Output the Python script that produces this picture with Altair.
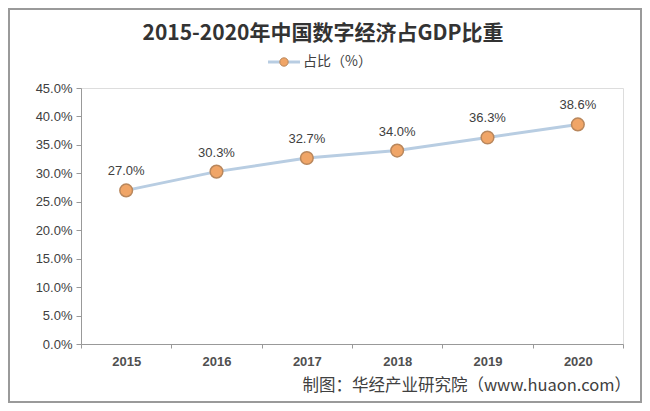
import altair as alt
import pandas as pd

years = ["2015", "2016", "2017", "2018", "2019", "2020"]
shares = [0.270, 0.303, 0.327, 0.340, 0.363, 0.386]
series_name = "占比（%）"
title_text = "2015-2020年中国数字经济占GDP比重"
footer_text = "制图：华经产业研究院（www.huaon.com）"
y_ticks = [0, 0.05, 0.10, 0.15, 0.20, 0.25, 0.30, 0.35, 0.40, 0.45]

df = pd.DataFrame({"year": years, "share": shares})

W, H = 542, 256
PADL, PADT, PADR, PADB = 73, 80, 19, 59

line_color = "#b8cde2"
pt_fill = "#f0a567"
pt_stroke = "#b9875c"
txt = "#404040"

x = alt.X("year:N", scale=alt.Scale(paddingInner=0, paddingOuter=0),
          axis=alt.Axis(title=None, labelAngle=0, labelFontSize=13, labelFontWeight="bold",
                        labelColor="#505050", labelPadding=7, tickBand="extent", tickSize=4,
                        domainColor="#999999", tickColor="#999999", labelFont="Liberation Sans"))
y = alt.Y("share:Q", scale=alt.Scale(domain=[0, 0.45]),
          axis=alt.Axis(title=None, values=y_ticks, format=".1%", labelFontSize=13,
                        labelColor=txt, tickSize=5, grid=False, domainColor="#999999",
                        tickColor="#999999", labelPadding=4, labelFont="Liberation Sans"))

base = alt.Chart(df)
line = base.mark_line(strokeWidth=3, color=line_color).encode(x=x, y=y)
points = base.mark_point(filled=True, size=160, fill=pt_fill, stroke=pt_stroke,
                         strokeWidth=1.5, opacity=1).encode(x=x, y=y)
labels = base.mark_text(dy=-19, fontSize=13, color=txt, font="Liberation Sans").encode(
    x=x, y=y, text=alt.Text("share:Q", format=".1%"))

one = pd.DataFrame({"t": [0]})

# legend (line + marker + label)
leg_line = alt.Chart(one).mark_rule(color=line_color, strokeWidth=3).encode(
    x=alt.value(187), x2=alt.value(219), y=alt.value(-26))
leg_pt = alt.Chart(one).mark_point(filled=True, size=70, fill=pt_fill, stroke=pt_stroke,
                                   strokeWidth=1, opacity=1).encode(
    x=alt.value(203), y=alt.value(-26))
leg_txt = alt.Chart(pd.DataFrame({"t": [series_name]})).mark_text(
    align="left", baseline="middle", fontSize=14, color=txt, font="Noto Sans CJK SC"
).encode(x=alt.value(222), y=alt.value(-26), text="t:N")

title = alt.Chart(pd.DataFrame({"t": [title_text]})).mark_text(
    align="center", baseline="middle", fontSize=21, fontWeight="bold", color="#333333",
    font="Noto Sans CJK SC"
).encode(x=alt.value(242), y=alt.value(-54), text="t:N")

footer = alt.Chart(pd.DataFrame({"t": [footer_text]})).mark_text(
    align="right", baseline="middle", fontSize=16.5, color=txt, font="Noto Sans CJK SC"
).encode(x=alt.value(W + 8), y=alt.value(H + 42), text="t:N")

border = alt.Chart(one).mark_rect(
    fill=None, fillOpacity=0, stroke="#9a9a9a", strokeWidth=2
).encode(x=alt.value(-PADL + 1), x2=alt.value(W + PADR - 1),
         y=alt.value(-PADT + 1), y2=alt.value(H + PADB - 1))

chart = alt.layer(border, line, points, labels, leg_line, leg_pt, leg_txt, title, footer).properties(
    width=W, height=H,
    autosize=alt.AutoSizeParams(type="none"),
    padding={"left": PADL, "top": PADT, "right": PADR, "bottom": PADB},
).configure_view(stroke=None).configure(background="white")

chart.save("out.html", embed_options={"renderer": "svg", "actions": False})
